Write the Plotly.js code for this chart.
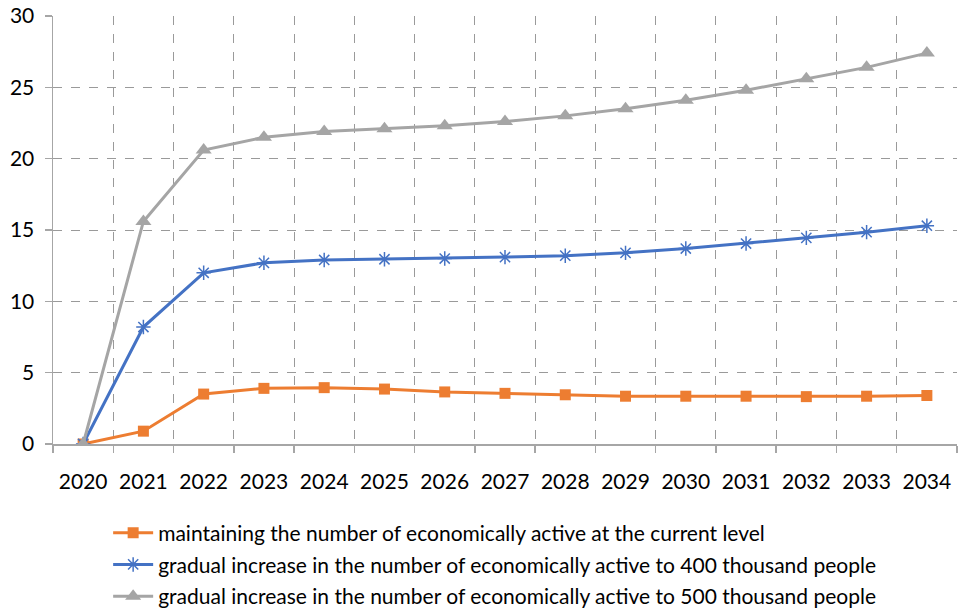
<!DOCTYPE html>
<html>
<head>
<meta charset="utf-8">
<script src="https://cdn.plot.ly/plotly-3.0.1.min.js"></script>
<style>html,body{margin:0;padding:0;background:#fff}#chart{width:961px;height:608px}</style>
</head>
<body>
<div id="chart"></div>
<script>
const years = ["2020","2021","2022","2023","2024","2025","2026","2027","2028","2029","2030","2031","2032","2033","2034"];
const maintainCurrent = [0, 0.9, 3.5, 3.9, 3.95, 3.85, 3.65, 3.55, 3.45, 3.35, 3.35, 3.35, 3.32, 3.35, 3.4];
const increase400 = [0, 8.2, 12.0, 12.7, 12.9, 12.95, 13.0, 13.1, 13.2, 13.4, 13.7, 14.05, 14.45, 14.85, 15.3];
const increase500 = [0, 15.6, 20.6, 21.5, 21.9, 22.1, 22.3, 22.6, 23.0, 23.5, 24.1, 24.8, 25.6, 26.4, 27.4];
const seriesNames = [
  "maintaining the number of economically active at the current level",
  "gradual increase in the number of economically active to 400 thousand people",
  "gradual increase in the number of economically active to 500 thousand people"
];
const yTicks = [0, 5, 10, 15, 20, 25, 30];

const FONT = "Lato, 'Open Sans', sans-serif";
const traces = [
  {x: years, y: maintainCurrent, name: seriesNames[0], legendgroup: "a", type: "scatter", mode: "lines+markers",
   line: {color: "#ED7D31", width: 3}, marker: {symbol: "square", size: 11, color: "#ED7D31"}},
  {x: years, y: increase400, name: seriesNames[1], legendgroup: "b", type: "scatter", mode: "lines+markers",
   line: {color: "#4472C4", width: 3}, marker: {symbol: "asterisk-open", size: 12, color: "#4472C4", line: {color: "#4472C4", width: 1.5}}},
  {x: years, y: increase500, name: seriesNames[2], legendgroup: "c", type: "scatter", mode: "lines+markers",
   line: {color: "#A5A5A5", width: 3}, marker: {symbol: "triangle-up", size: 14, color: "#A5A5A5"}}
];
const layout = {
  width: 961, height: 608,
  margin: {l: 53, r: 4, t: 16, b: 164, autoexpand: false},
  paper_bgcolor: "#fff", plot_bgcolor: "#fff",
  font: {family: FONT, size: 21, color: "#000"},
  showlegend: true,
  legend: {x: 0.061, xanchor: "left", y: -0.16, yanchor: "top", orientation: "v",
           font: {family: FONT, size: 21, color: "#000"}, tracegroupgap: 1.5, itemwidth: 40,
           bgcolor: "rgba(0,0,0,0)"},
  xaxis: {type: "category", range: [-0.5, 14.5], tickson: "boundaries",
          showgrid: true, gridcolor: "#9a9a9a", griddash: "dash", gridwidth: 1,
          showline: true, linecolor: "#a6a6a6", linewidth: 1.5,
          ticks: "outside", ticklen: 7, tickcolor: "#a6a6a6", tickwidth: 1.5,
          tickfont: {family: FONT, size: 21, color: "#000"}, ticklabelstandoff: 18,
          zeroline: false, fixedrange: true},
  yaxis: {range: [0, 30], tickvals: yTicks, ticktext: yTicks.map(String),
          showgrid: true, gridcolor: "#9a9a9a", griddash: "dash", gridwidth: 1,
          showline: true, linecolor: "#a6a6a6", linewidth: 1.5,
          ticks: "outside", ticklen: 7, tickcolor: "#a6a6a6", tickwidth: 1.5,
          tickfont: {family: FONT, size: 21, color: "#000"}, ticklabelstandoff: 6,
          zeroline: false, fixedrange: true}
};
Plotly.newPlot("chart", traces, layout, {displayModeBar: false, staticPlot: true});
</script>
</body>
</html>
